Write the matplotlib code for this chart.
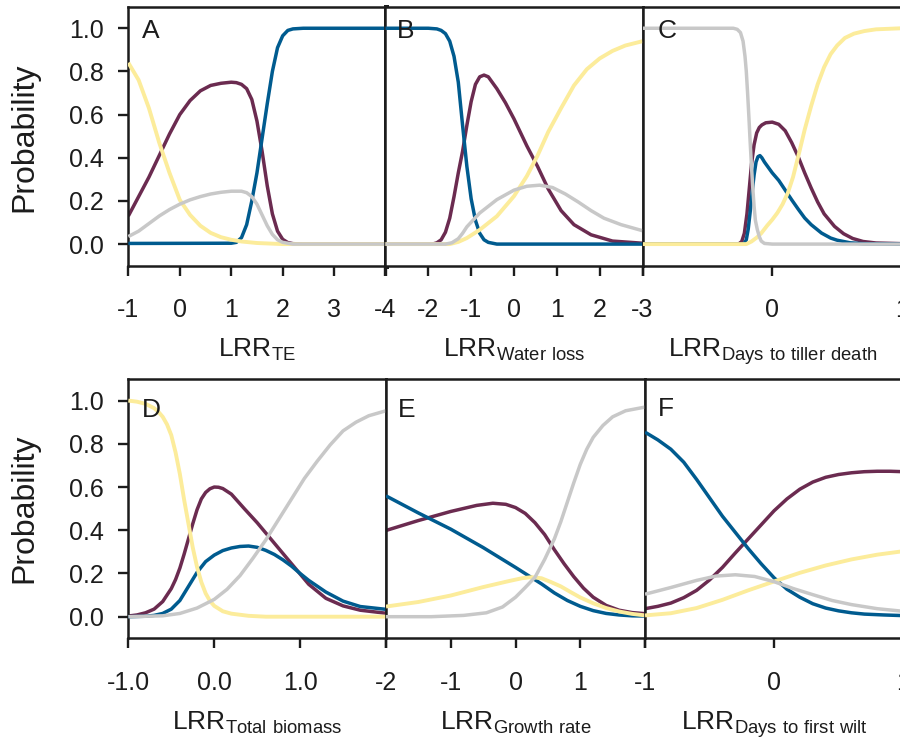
"""
Probability curves against log response ratios, six panels (A-F) in a 2x3 grid.
Panels touch each other; the right column runs slightly past the figure edge.
"""
import matplotlib
matplotlib.use("Agg")
import matplotlib.pyplot as plt

plt.rcParams["font.family"] = ["Liberation Sans", "DejaVu Sans"]
plt.rcParams["axes.unicode_minus"] = False

BLUE = "#005b8f"
PURPLE = "#6b2b50"
YELLOW = "#fcec9b"
GRAY = "#c8c8c8"
INK = "#1c1c1c"

# ---- panel A: LRR TE ----
A_XTICKS = [-1, 0, 1, 2, 3, 4]
A_XTICKLABELS = ["-1", "0", "1", "2", "3", "-4"]
A_BLUE_X = [-1.0, 1.0, 1.1, 1.2, 1.3, 1.4, 1.5, 1.6, 1.7, 1.8, 1.9, 2.0, 2.1, 2.2, 2.4, 4.0]
A_BLUE_Y = [0.003, 0.004, 0.008, 0.03, 0.09, 0.2, 0.33, 0.49, 0.65, 0.8, 0.91, 0.965, 0.99, 0.997, 1.0, 1.0]
A_PURPLE_X = [-1.0, -0.8, -0.6, -0.4, -0.2, 0.0, 0.2, 0.4, 0.6, 0.8, 1.0, 1.1, 1.2, 1.3, 1.4, 1.5,
              1.6, 1.7, 1.8, 1.9, 2.0, 2.1, 2.2, 2.4, 4.0]
A_PURPLE_Y = [0.13, 0.22, 0.31, 0.41, 0.51, 0.60, 0.665, 0.71, 0.735, 0.745, 0.75, 0.748, 0.74, 0.72,
              0.67, 0.57, 0.43, 0.27, 0.14, 0.06, 0.022, 0.007, 0.002, 0.0, 0.0]
A_YELLOW_X = [-1.0, -0.8, -0.6, -0.4, -0.2, 0.0, 0.2, 0.4, 0.6, 0.8, 1.0, 1.2, 1.5, 2.0, 4.0]
A_YELLOW_Y = [0.84, 0.76, 0.63, 0.47, 0.33, 0.205, 0.135, 0.085, 0.052, 0.032, 0.02, 0.012, 0.005, 0.0, 0.0]
A_GRAY_X = [-1.0, -0.8, -0.6, -0.4, -0.2, 0.0, 0.2, 0.4, 0.6, 0.8, 1.0, 1.2, 1.3, 1.4, 1.5, 1.6,
            1.7, 1.8, 1.9, 2.0, 2.2, 4.0]
A_GRAY_Y = [0.035, 0.06, 0.095, 0.13, 0.16, 0.185, 0.205, 0.22, 0.232, 0.24, 0.245, 0.245, 0.238,
            0.22, 0.185, 0.135, 0.085, 0.045, 0.02, 0.008, 0.0, 0.0]

# ---- panel B: LRR water loss ----
B_XTICKS = [-3, -2, -1, 0, 1, 2, 3]
B_XTICKLABELS = ["", "-2", "-1", "0", "1", "2", "-3"]
B_BLUE_X = [-3.0, -2.0, -1.8, -1.7, -1.6, -1.5, -1.4, -1.3, -1.2, -1.1, -1.0, -0.9, -0.8, -0.7,
            -0.6, -0.4, 3.0]
B_BLUE_Y = [1.0, 1.0, 0.997, 0.99, 0.975, 0.94, 0.87, 0.75, 0.55, 0.36, 0.21, 0.11, 0.05, 0.02,
            0.008, 0.0, 0.0]
B_PURPLE_X = [-3.0, -1.9, -1.8, -1.7, -1.6, -1.5, -1.4, -1.3, -1.2, -1.1, -1.0, -0.9, -0.8, -0.7,
              -0.6, -0.4, -0.2, 0.0, 0.3, 0.55, 0.8, 1.1, 1.4, 1.8, 2.3, 3.0]
B_PURPLE_Y = [0.0, 0.0, 0.006, 0.02, 0.055, 0.12, 0.22, 0.33, 0.43, 0.55, 0.66, 0.74, 0.775, 0.783,
              0.775, 0.72, 0.655, 0.58, 0.455, 0.36, 0.255, 0.155, 0.09, 0.043, 0.014, 0.004]
B_YELLOW_X = [-3.0, -1.5, -1.3, -1.1, -0.8, -0.4, 0.0, 0.3, 0.55, 0.8, 1.1, 1.4, 1.7, 2.0, 2.3, 2.6, 3.0]
B_YELLOW_Y = [0.0, 0.0, 0.01, 0.028, 0.066, 0.129, 0.222, 0.315, 0.41, 0.52, 0.63, 0.735, 0.81,
              0.86, 0.895, 0.92, 0.94]
B_GRAY_X = [-3.0, -1.6, -1.45, -1.3, -1.2, -1.1, -0.8, -0.4, 0.0, 0.3, 0.6, 0.9, 1.2, 1.5, 1.8,
            2.1, 2.5, 3.0]
B_GRAY_Y = [0.0, 0.0, 0.006, 0.025, 0.05, 0.08, 0.144, 0.206, 0.25, 0.268, 0.273, 0.262, 0.232,
            0.195, 0.155, 0.12, 0.09, 0.062]

# ---- panel C: LRR days to tiller death ----
C_XTICKS = [-1, 0, 1]
C_XTICKLABELS = ["", "0", "1"]
C_BLUE_X = [-1.0, -0.22, -0.2, -0.185, -0.17, -0.155, -0.14, -0.125, -0.11, -0.095, -0.08, -0.06,
            -0.03, 0.0, 0.05, 0.1, 0.15, 0.2, 0.25, 0.3, 0.38, 0.45, 0.5, 0.6, 0.7, 1.0]
C_BLUE_Y = [0.0, 0.0, 0.02, 0.07, 0.15, 0.24, 0.32, 0.38, 0.405, 0.41, 0.4, 0.38, 0.355, 0.33,
            0.295, 0.25, 0.205, 0.162, 0.121, 0.09, 0.051, 0.028, 0.018, 0.006, 0.002, 0.0]
C_PURPLE_X = [-1.0, -0.26, -0.235, -0.215, -0.195, -0.175, -0.16, -0.14, -0.12, -0.1, -0.08, -0.05,
              0.0, 0.05, 0.1, 0.15, 0.2, 0.25, 0.3, 0.35, 0.4, 0.48, 0.55, 0.62, 0.7, 0.8, 1.0]
C_PURPLE_Y = [0.0, 0.0, 0.012, 0.05, 0.14, 0.27, 0.37, 0.46, 0.515, 0.54, 0.552, 0.562, 0.565,
              0.555, 0.525, 0.47, 0.405, 0.33, 0.26, 0.195, 0.14, 0.082, 0.048, 0.026, 0.012, 0.005, 0.002]
C_YELLOW_X = [-1.0, -0.2, -0.16, -0.12, -0.085, -0.04, 0.0, 0.04, 0.08, 0.12, 0.16, 0.21, 0.25,
              0.3, 0.35, 0.4, 0.45, 0.5, 0.56, 0.63, 0.71, 0.8, 1.0]
C_YELLOW_Y = [0.0, 0.0, 0.012, 0.03, 0.05, 0.085, 0.113, 0.145, 0.185, 0.237, 0.31, 0.43, 0.53,
              0.64, 0.74, 0.82, 0.88, 0.92, 0.955, 0.975, 0.987, 0.995, 1.0]
C_GRAY_X = [-1.0, -0.3, -0.27, -0.245, -0.225, -0.21, -0.2, -0.19, -0.18, -0.17, -0.16, -0.15,
            -0.14, -0.13, -0.115, -0.1, -0.085, -0.06, 0.0, 1.0]
C_GRAY_Y = [1.0, 1.0, 0.995, 0.98, 0.94, 0.87, 0.8, 0.7, 0.59, 0.47, 0.36, 0.26, 0.175, 0.11,
            0.067, 0.035, 0.014, 0.003, 0.0, 0.0]

# ---- panel D: LRR total biomass ----
D_XTICKS = [-1, 0, 1, 2]
D_XTICKLABELS = ["-1.0", "0.0", "1.0", ""]
D_BLUE_X = [-1.0, -0.8, -0.7, -0.6, -0.5, -0.4, -0.3, -0.2, -0.1, 0.0, 0.1, 0.2, 0.3, 0.4, 0.5,
            0.6, 0.7, 0.8, 0.9, 1.0, 1.1, 1.3, 1.5, 1.7, 2.0]
D_BLUE_Y = [0.0, 0.002, 0.006, 0.015, 0.035, 0.075, 0.14, 0.205, 0.255, 0.285, 0.306, 0.318,
            0.325, 0.327, 0.321, 0.307, 0.288, 0.263, 0.234, 0.2, 0.168, 0.114, 0.072, 0.047, 0.034]
D_PURPLE_X = [-1.0, -0.9, -0.8, -0.7, -0.6, -0.5, -0.45, -0.4, -0.35, -0.3, -0.25, -0.2, -0.15,
              -0.1, -0.05, 0.0, 0.05, 0.1, 0.2, 0.35, 0.5, 0.7, 0.9, 1.1, 1.3, 1.5, 1.7, 2.0]
D_PURPLE_Y = [0.003, 0.008, 0.018, 0.035, 0.07, 0.13, 0.172, 0.225, 0.29, 0.36, 0.43, 0.495,
              0.545, 0.575, 0.592, 0.6, 0.599, 0.593, 0.567, 0.5, 0.435, 0.34, 0.245, 0.15, 0.085,
              0.05, 0.03, 0.016]
D_YELLOW_X = [-1.0, -0.9, -0.8, -0.7, -0.65, -0.6, -0.55, -0.5, -0.45, -0.4, -0.35, -0.3, -0.25,
              -0.2, -0.15, -0.1, -0.05, 0.0, 0.1, 0.2, 0.4, 0.6, 2.0]
D_YELLOW_Y = [1.0, 0.995, 0.985, 0.965, 0.948, 0.925, 0.89, 0.84, 0.76, 0.66, 0.54, 0.43, 0.32,
              0.23, 0.16, 0.108, 0.073, 0.05, 0.025, 0.014, 0.004, 0.0, 0.0]
D_GRAY_X = [-1.0, -0.6, -0.4, -0.2, 0.0, 0.15, 0.3, 0.45, 0.6, 0.75, 0.9, 1.05, 1.2, 1.35, 1.5,
            1.65, 1.8, 2.0]
D_GRAY_Y = [0.0, 0.004, 0.015, 0.04, 0.08, 0.127, 0.19, 0.27, 0.355, 0.45, 0.545, 0.64, 0.72,
            0.795, 0.86, 0.9, 0.93, 0.953]

# ---- panel E: LRR growth rate ----
E_XTICKS = [-2, -1, 0, 1, 2]
E_XTICKLABELS = ["-2", "-1", "0", "1", ""]
E_BLUE_X = [-2.0, -1.5, -1.0, -0.5, 0.0, 0.2, 0.4, 0.6, 0.8, 1.0, 1.2, 1.4, 1.6, 1.8, 2.0]
E_BLUE_Y = [0.559, 0.48, 0.405, 0.32, 0.228, 0.19, 0.152, 0.11, 0.075, 0.048, 0.028, 0.015,
            0.008, 0.004, 0.003]
E_PURPLE_X = [-2.0, -1.5, -1.0, -0.6, -0.35, -0.15, 0.0, 0.15, 0.3, 0.45, 0.6, 0.75, 0.9, 1.05,
              1.2, 1.4, 1.6, 1.8, 2.0]
E_PURPLE_Y = [0.399, 0.445, 0.487, 0.515, 0.525, 0.52, 0.505, 0.478, 0.435, 0.38, 0.31, 0.245,
              0.185, 0.132, 0.09, 0.052, 0.03, 0.019, 0.014]
E_YELLOW_X = [-2.0, -1.5, -1.0, -0.5, -0.1, 0.1, 0.25, 0.4, 0.55, 0.7, 0.85, 1.0, 1.2, 1.4, 1.6,
              1.8, 2.0]
E_YELLOW_Y = [0.047, 0.068, 0.098, 0.137, 0.165, 0.178, 0.183, 0.178, 0.16, 0.14, 0.114, 0.089,
              0.062, 0.04, 0.024, 0.013, 0.006]
E_GRAY_X = [-2.0, -1.3, -0.8, -0.45, -0.2, 0.0, 0.15, 0.3, 0.45, 0.6, 0.7, 0.8, 0.9, 1.0, 1.1,
            1.2, 1.35, 1.5, 1.7, 2.0]
E_GRAY_Y = [0.0, 0.0, 0.006, 0.018, 0.045, 0.09, 0.135, 0.182, 0.265, 0.36, 0.44, 0.53, 0.62,
            0.705, 0.775, 0.83, 0.885, 0.925, 0.953, 0.97]

# ---- panel F: LRR days to first wilt ----
F_XTICKS = [-1, 0, 1]
F_XTICKLABELS = ["-1", "0", "1"]
F_BLUE_X = [-1.0, -0.9, -0.8, -0.7, -0.6, -0.5, -0.4, -0.3, -0.2, -0.1, 0.0, 0.1, 0.2, 0.3, 0.4,
            0.5, 0.6, 0.7, 0.85, 1.0]
F_BLUE_Y = [0.854, 0.818, 0.775, 0.715, 0.635, 0.55, 0.465, 0.39, 0.315, 0.245, 0.18, 0.127,
            0.09, 0.06, 0.04, 0.027, 0.018, 0.012, 0.008, 0.005]
F_PURPLE_X = [-1.0, -0.9, -0.8, -0.7, -0.6, -0.5, -0.4, -0.3, -0.2, -0.1, 0.0, 0.1, 0.2, 0.3,
              0.4, 0.5, 0.6, 0.7, 0.8, 0.9, 1.0]
F_PURPLE_Y = [0.037, 0.048, 0.063, 0.088, 0.122, 0.17, 0.228, 0.295, 0.36, 0.425, 0.49, 0.545,
              0.59, 0.623, 0.645, 0.658, 0.666, 0.671, 0.673, 0.673, 0.671]
F_YELLOW_X = [-1.0, -0.8, -0.6, -0.4, -0.2, 0.0, 0.2, 0.4, 0.6, 0.8, 1.0]
F_YELLOW_Y = [0.006, 0.016, 0.04, 0.078, 0.122, 0.163, 0.203, 0.237, 0.265, 0.287, 0.303]
F_GRAY_X = [-1.0, -0.8, -0.6, -0.45, -0.3, -0.15, 0.0, 0.15, 0.3, 0.45, 0.6, 0.8, 1.0]
F_GRAY_Y = [0.104, 0.135, 0.168, 0.188, 0.194, 0.186, 0.162, 0.13, 0.102, 0.075, 0.056, 0.037, 0.025]

Y_TICKS = [0.0, 0.2, 0.4, 0.6, 0.8, 1.0]
Y_TICKLABELS = ["0.0", "0.2", "0.4", "0.6", "0.8", "1.0"]

# letter, subscript of LRR, x range, ticks, tick labels, curves (purple, blue, yellow, gray)
PANELS = [
    ("A", "TE", (-1, 4), A_XTICKS, A_XTICKLABELS,
     [(A_PURPLE_X, A_PURPLE_Y), (A_BLUE_X, A_BLUE_Y), (A_YELLOW_X, A_YELLOW_Y), (A_GRAY_X, A_GRAY_Y)]),
    ("B", r"Water\ loss", (-3, 3), B_XTICKS, B_XTICKLABELS,
     [(B_PURPLE_X, B_PURPLE_Y), (B_BLUE_X, B_BLUE_Y), (B_YELLOW_X, B_YELLOW_Y), (B_GRAY_X, B_GRAY_Y)]),
    ("C", r"Days\ to\ tiller\ death", (-1, 1), C_XTICKS, C_XTICKLABELS,
     [(C_PURPLE_X, C_PURPLE_Y), (C_BLUE_X, C_BLUE_Y), (C_YELLOW_X, C_YELLOW_Y), (C_GRAY_X, C_GRAY_Y)]),
    ("D", r"Total\ biomass", (-1, 2), D_XTICKS, D_XTICKLABELS,
     [(D_PURPLE_X, D_PURPLE_Y), (D_BLUE_X, D_BLUE_Y), (D_YELLOW_X, D_YELLOW_Y), (D_GRAY_X, D_GRAY_Y)]),
    ("E", r"Growth\ rate", (-2, 2), E_XTICKS, E_XTICKLABELS,
     [(E_PURPLE_X, E_PURPLE_Y), (E_BLUE_X, E_BLUE_Y), (E_YELLOW_X, E_YELLOW_Y), (E_GRAY_X, E_GRAY_Y)]),
    ("F", r"Days\ to\ first\ wilt", (-1, 1), F_XTICKS, F_XTICKLABELS,
     [(F_PURPLE_X, F_PURPLE_Y), (F_BLUE_X, F_BLUE_Y), (F_YELLOW_X, F_YELLOW_Y), (F_GRAY_X, F_GRAY_Y)]),
]
CURVE_COLORS = [PURPLE, BLUE, YELLOW, GRAY]

# axes rectangles in figure fraction (panels butt against each other)
RECTS = [
    (0.1426, 0.6453, 0.2858, 0.3458),
    (0.4283, 0.6453, 0.2856, 0.3458),
    (0.7139, 0.6453, 0.2883, 0.3458),
    (0.1426, 0.1478, 0.2863, 0.3462),
    (0.4289, 0.1478, 0.2878, 0.3462),
    (0.7167, 0.1478, 0.2867, 0.3462),
]
LETTER_POS = [(0.052, 0.987), (0.045, 0.989), (0.058, 0.989),
              (0.052, 0.958), (0.044, 0.958), (0.049, 0.960)]


def draw_panel(ax, panel, letter_pos, first_col):
    letter, sub, xlim, xticks, xticklabels, curves = panel
    for (xs, ys), color, z in zip(curves, CURVE_COLORS, [2, 3, 4, 5]):
        lw = 2.8 if color == YELLOW else 2.5
        ax.plot(xs, ys, color=color, lw=lw, zorder=z, solid_capstyle="butt",
                solid_joinstyle="round")

    ax.set_xlim(*xlim)
    ax.set_ylim(-0.1, 1.1)
    ax.set_xticks(xticks, xticklabels)
    ax.tick_params(axis="x", direction="out", length=7.5, width=1.7, pad=16,
                   labelsize=18, color=INK, labelcolor=INK)
    if first_col:
        ax.set_yticks(Y_TICKS, Y_TICKLABELS)
        ax.tick_params(axis="y", direction="out", length=7.5, width=1.7, pad=10,
                       labelsize=18, color=INK, labelcolor=INK)
    else:
        ax.set_yticks([])

    for side, spine in ax.spines.items():
        spine.set_color(INK)
        spine.set_linewidth(1.8)
    if letter == "A":
        ax.spines["right"].set_linewidth(3.6)

    ax.text(letter_pos[0], letter_pos[1], letter, transform=ax.get_yaxis_transform(),
            ha="left", va="center", fontsize=19, color=INK, zorder=6)
    ax.text(0.5, -0.351, r"$\mathregular{LRR_{%s}}$" % sub, transform=ax.transAxes,
            ha="center", va="baseline", fontsize=19, color=INK)


def main():
    fig = plt.figure(figsize=(9, 7.49), dpi=100)
    for i, (panel, rect, lpos) in enumerate(zip(PANELS, RECTS, LETTER_POS)):
        ax = fig.add_axes(rect)
        draw_panel(ax, panel, lpos, first_col=(i % 3 == 0))

    fig.text(0.027, 0.8164, "Probability", rotation=90, ha="center", va="center",
             fontsize=23, color=INK)
    fig.text(0.027, 0.3217, "Probability", rotation=90, ha="center", va="center",
             fontsize=23, color=INK)

    fig.savefig("out.png", dpi=100)
    plt.close(fig)


if __name__ == "__main__":
    main()
